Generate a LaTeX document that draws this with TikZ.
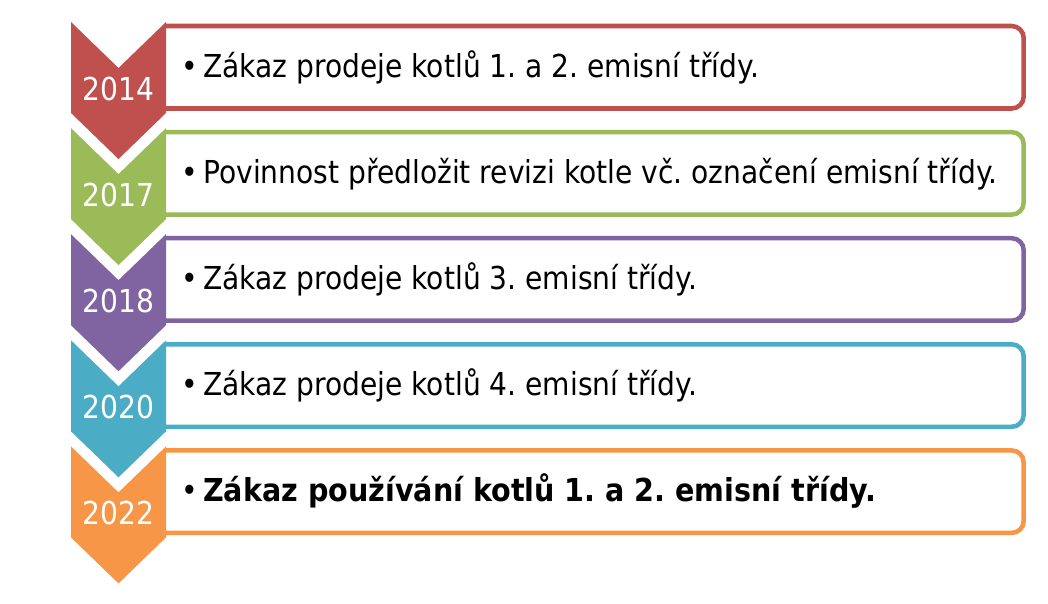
\documentclass[tikz,border=0pt]{standalone}
\usepackage{fontspec}
\setmainfont{DejaVu Sans}[FakeStretch=0.89, BoldFeatures={FakeStretch=0.905}]
\definecolor{cred}{HTML}{C0504D}
\definecolor{cgreen}{HTML}{9BBB59}
\definecolor{cpurple}{HTML}{8064A2}
\definecolor{cteal}{HTML}{4BACC6}
\definecolor{corange}{HTML}{F79646}
\tikzset{
  entrybox/.style={draw=#1, line width=3.4pt, fill=white, rounded corners=9pt},
  yearlabel/.style={text=white, anchor=base, inner sep=0pt,
    font=\fontsize{23.7pt}{28pt}\selectfont},
  entrytext/.style={text=black, anchor=base west, inner sep=0pt,
    font=\fontsize{23.7pt}{28pt}\selectfont\frenchspacing},
}
\begin{document}
\begin{tikzpicture}[x=0.75pt,y=-0.75pt]
\useasboundingbox (0,0) rectangle (1048,603);
\fill[white] (0,0) rectangle (1048,603);
\foreach \i/\c/\yr/\txt in {
  0/cred/2014/{Zákaz prodeje kotlů 1. a 2. emisní třídy.},
  1/cgreen/2017/{Povinnost předložit revizi kotle vč. označení emisní třídy.},
  2/cpurple/2018/{Zákaz prodeje kotlů 3. emisní třídy.},
  3/cteal/2020/{Zákaz prodeje kotlů 4. emisní třídy.},
  4/corange/2022/{\bfseries Zákaz používání kotlů 1. a 2. emisní třídy.}}{
  \pgfmathsetmacro{\T}{22+106.1*\i}
  \coordinate (bl\i) at (165.5,\T+4);
  \coordinate (br\i) at (1023.7,\T+4);
  \coordinate (cr\i) at (1023.7,\T+86.5);
  \coordinate (cl\i) at (165.5,\T+86.5);
  \draw[entrybox=\c] (bl\i) -- (br\i) -- (cr\i) -- (cl\i);
  \fill[\c] (71,\T) -- (118.5,\T+46) -- (166,\T) -- (166,\T+91)
     -- (118.5,\T+137) -- (71,\T+91) -- cycle;
  \node[yearlabel] (yr\i) at (118.5,\T+78) {\yr};
  \node[entrytext] (tx\i) at (181,\T+55) {•\kern4pt\txt};
}
\end{tikzpicture}
\end{document}
